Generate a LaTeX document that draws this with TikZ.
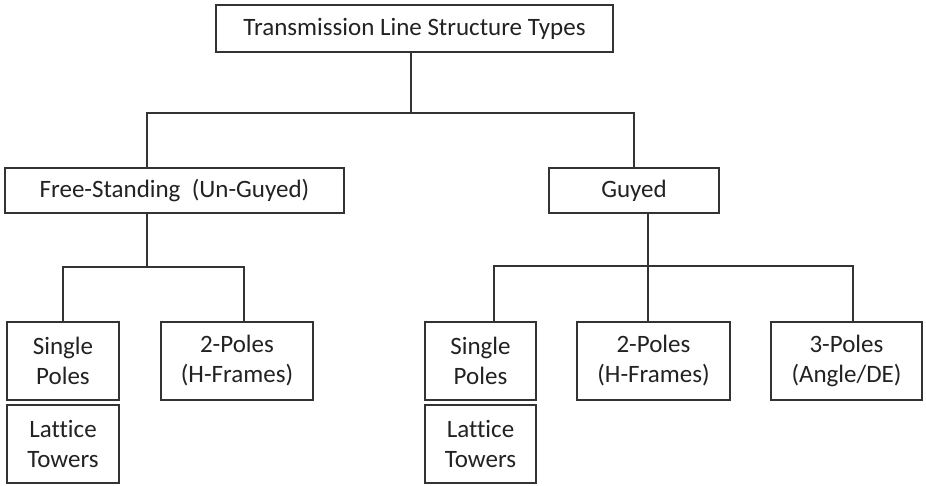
\documentclass[tikz,border=0pt]{standalone}
\usepackage{fontspec}
\setmainfont[Ligatures={NoCommon}]{Carlito}
\definecolor{ln}{HTML}{333333}
\definecolor{tx}{HTML}{222222}
\begin{document}
\begin{tikzpicture}[x=1pt,y=-1pt,
  box/.style={draw=ln,line width=2pt,inner sep=0pt,align=center,text=tx,
    font=\fontsize{25}{30}\selectfont},
  conn/.style={draw=ln,line width=2pt}]
\useasboundingbox[fill=white] (0,0) rectangle (926,485);
\node[box,minimum width=397pt,minimum height=47pt] (top) at (414.5,28.5) {Transmission Line Structure Types};
\node[box,minimum width=339pt,minimum height=45pt] (free) at (174.5,190.5) {Free-Standing\ \ (Un-Guyed)};
\node[box,minimum width=170pt,minimum height=45pt] (guyed) at (634,190.5) {Guyed};
\node[box,minimum width=112pt,minimum height=78pt] (ls) at (63,361) {Single\\Poles};
\node[box,minimum width=112pt,minimum height=78pt] (ll) at (63,444) {Lattice\\Towers};
\node[box,minimum width=152pt,minimum height=78pt] (l2) at (237,361) {2-Poles\\(H-Frames)};
\node[box,minimum width=111pt,minimum height=78pt] (rs) at (480.5,361) {Single\\Poles};
\node[box,minimum width=111pt,minimum height=78pt] (rl) at (480.5,444) {Lattice\\Towers};
\node[box,minimum width=153pt,minimum height=78pt] (r2) at (653.5,361) {2-Poles\\(H-Frames)};
\node[box,minimum width=151pt,minimum height=78pt] (r3) at (846.5,361) {3-Poles\\(Angle/DE)};
\coordinate (j0) at (411,113);
\coordinate (jl) at (147,113);
\coordinate (jr) at (634,113);
\coordinate (k0) at (147,267);
\coordinate (kl) at (63,267);
\coordinate (kr) at (244,267);
\coordinate (m0) at (648,266);
\coordinate (ml) at (494,266);
\coordinate (mr) at (853,266);
\draw[conn] (top.south -| j0) -- (j0);
\draw[conn] (free.north -| jl) -- (jl) -- (jr) -- (guyed.north -| jr);
\draw[conn] (free.south -| k0) -- (k0);
\draw[conn] (ls.north -| kl) -- (kl) -- (kr) -- (l2.north -| kr);
\draw[conn] (guyed.south -| m0) -- (r2.north -| m0);
\draw[conn] (rs.north -| ml) -- (ml) -- (mr) -- (r3.north -| mr);
\end{tikzpicture}
\end{document}
